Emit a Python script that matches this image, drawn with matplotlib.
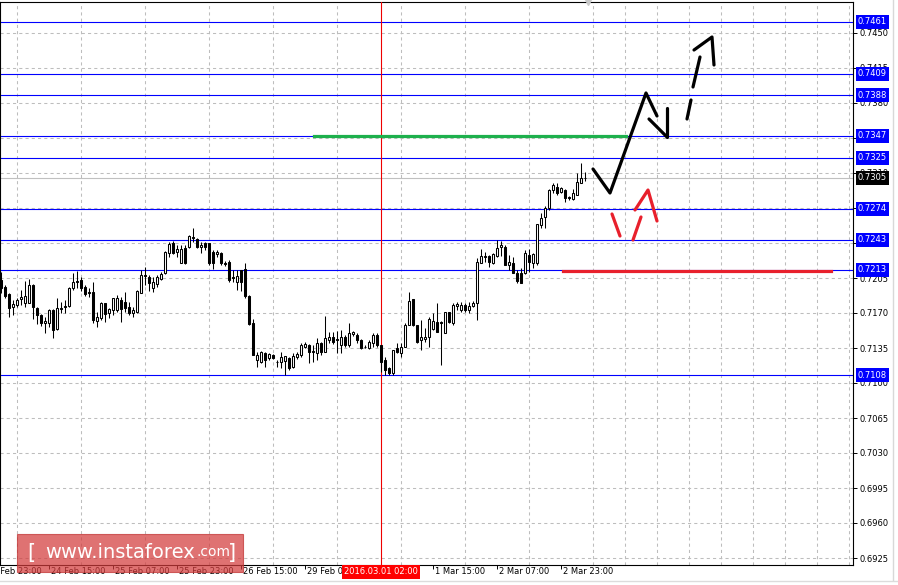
import numpy as np
import matplotlib
matplotlib.use('Agg')
import matplotlib.pyplot as plt
from matplotlib.lines import Line2D
from matplotlib.patches import Rectangle
from matplotlib.transforms import blended_transform_factory


W, H, DPI = 898, 585, 100

# H1 candles, prices in pips (x 1e-4)
OPENS = [7203, 7196, 7189, 7176, 7178, 7184, 7180, 7180, 7198, 7175,
         7168, 7160, 7160, 7173, 7154, 7174, 7177, 7177, 7195, 7202,
         7203, 7196, 7191, 7191, 7162, 7165, 7180, 7170, 7173, 7173,
         7183, 7181, 7176, 7170, 7171, 7190, 7208, 7206, 7195, 7199,
         7204, 7210, 7230, 7240, 7231, 7220, 7235, 7236, 7246, 7244,
         7236, 7240, 7240, 7231, 7229, 7230, 7220, 7221, 7206, 7201,
         7213, 7214, 7187, 7160, 7123, 7121, 7130, 7125, 7128, 7121,
         7121, 7122, 7125, 7116, 7126, 7128, 7136, 7138, 7131, 7130,
         7140, 7131, 7143, 7146, 7144, 7138, 7146, 7138, 7149, 7148,
         7143, 7136, 7135, 7140, 7148, 7138, 7123, 7115, 7110, 7135,
         7130, 7136, 7158, 7184, 7158, 7143, 7144, 7146, 7154, 7161,
         7161, 7150, 7171, 7160, 7177, 7173, 7178, 7173, 7177, 7180,
         7220, 7227, 7227, 7220, 7227, 7236, 7236, 7218, 7220, 7210,
         7210, 7210, 7228, 7220, 7220, 7258, 7266, 7275, 7293, 7296,
         7291, 7293, 7286, 7284, 7288, 7300, 7305]
HIGHS = [7211, 7198, 7190, 7183, 7185, 7193, 7202, 7204, 7199, 7176,
         7169, 7166, 7174, 7174, 7185, 7181, 7183, 7196, 7210, 7212,
         7206, 7198, 7195, 7201, 7171, 7181, 7180, 7175, 7185, 7188,
         7186, 7191, 7181, 7176, 7193, 7213, 7216, 7208, 7206, 7208,
         7211, 7232, 7241, 7242, 7238, 7238, 7238, 7248, 7255, 7245,
         7241, 7241, 7240, 7233, 7233, 7231, 7222, 7223, 7213, 7213,
         7213, 7220, 7188, 7164, 7131, 7132, 7131, 7130, 7129, 7123,
         7131, 7127, 7126, 7130, 7131, 7140, 7141, 7139, 7138, 7145,
         7141, 7167, 7151, 7151, 7152, 7153, 7148, 7160, 7152, 7150,
         7144, 7138, 7143, 7150, 7150, 7138, 7126, 7116, 7133, 7140,
         7140, 7160, 7191, 7184, 7158, 7163, 7155, 7166, 7170, 7180,
         7162, 7171, 7171, 7180, 7181, 7181, 7180, 7181, 7182, 7225,
         7234, 7231, 7228, 7230, 7243, 7242, 7238, 7228, 7226, 7213,
         7215, 7233, 7234, 7230, 7259, 7270, 7277, 7294, 7300, 7300,
         7296, 7294, 7287, 7294, 7310, 7320, 7311]
LOWS = [7190, 7185, 7166, 7168, 7176, 7178, 7176, 7180, 7164, 7159,
        7157, 7150, 7156, 7145, 7153, 7170, 7170, 7176, 7193, 7195,
        7192, 7187, 7186, 7160, 7156, 7163, 7161, 7165, 7168, 7171,
        7161, 7171, 7168, 7166, 7170, 7190, 7198, 7192, 7191, 7196,
        7203, 7209, 7226, 7229, 7226, 7220, 7219, 7235, 7241, 7235,
        7230, 7233, 7218, 7214, 7226, 7218, 7217, 7201, 7201, 7193,
        7192, 7185, 7158, 7128, 7116, 7120, 7116, 7123, 7124, 7116,
        7115, 7108, 7113, 7115, 7124, 7126, 7135, 7120, 7121, 7123,
        7128, 7131, 7140, 7139, 7130, 7130, 7136, 7136, 7147, 7140,
        7134, 7135, 7134, 7136, 7136, 7111, 7108, 7108, 7108, 7130,
        7126, 7136, 7158, 7157, 7140, 7133, 7141, 7136, 7153, 7151,
        7118, 7150, 7160, 7158, 7173, 7171, 7171, 7170, 7176, 7163,
        7220, 7221, 7216, 7219, 7226, 7227, 7218, 7213, 7210, 7200,
        7200, 7209, 7211, 7215, 7218, 7255, 7255, 7273, 7290, 7288,
        7290, 7281, 7283, 7283, 7288, 7300, 7302]
CLOSES = [7195, 7187, 7175, 7179, 7183, 7186, 7187, 7198, 7176, 7168,
          7160, 7162, 7173, 7153, 7175, 7175, 7176, 7195, 7201, 7201,
          7195, 7189, 7190, 7163, 7166, 7180, 7169, 7174, 7185, 7185,
          7174, 7175, 7170, 7173, 7192, 7208, 7207, 7200, 7201, 7206,
          7209, 7231, 7239, 7230, 7234, 7234, 7220, 7247, 7245, 7236,
          7238, 7236, 7220, 7220, 7231, 7220, 7219, 7203, 7205, 7207,
          7201, 7187, 7159, 7128, 7128, 7131, 7123, 7129, 7125, 7121,
          7126, 7127, 7115, 7127, 7129, 7138, 7139, 7131, 7132, 7140,
          7131, 7145, 7146, 7141, 7143, 7146, 7138, 7150, 7151, 7143,
          7135, 7136, 7141, 7148, 7138, 7121, 7113, 7110, 7133, 7131,
          7136, 7158, 7182, 7158, 7141, 7146, 7146, 7164, 7162, 7151,
          7160, 7171, 7161, 7178, 7179, 7178, 7173, 7177, 7180, 7221,
          7227, 7226, 7221, 7229, 7235, 7238, 7218, 7221, 7210, 7202,
          7200, 7230, 7221, 7229, 7259, 7265, 7275, 7293, 7298, 7290,
          7295, 7285, 7285, 7290, 7301, 7305, 7305]

LEVELS = [0.7461, 0.7409, 0.7388, 0.7347, 0.7325, 0.7274, 0.7243, 0.7213, 0.7108]
BID = 0.7305
PRICE_TICKS = [0.7450, 0.7415, 0.7380, 0.7345, 0.7310, 0.7275, 0.7240, 0.7205,
               0.7170, 0.7135, 0.7100, 0.7065, 0.7030, 0.6995, 0.6960, 0.6925]

TICK_POS = [12, 28, 44, 60, 76, 92, 108, 124, 140]
LABEL_POS = [-4, 12, 28, 44, 60, 76, 108, 124, 140]
TIME_LABELS = ['23 Feb 23:00', '24 Feb 15:00', '25 Feb 07:00', '25 Feb 23:00',
               '26 Feb 15:00', '29 Feb 07:00', '1 Mar 15:00',
               '2 Mar 07:00', '2 Mar 23:00']
CROSS_BAR = 95
CROSS_LABEL = '2016.03.01 02:00'

# support / resistance segments: (bar from, bar to, price)
GREEN_SEG = (78.25, 156.25, 0.7347)
RED_SEG = (140.5, 207.5, 0.72125)

# hand drawn scenario arrows, (bars, prices)
MAIN_PATH = ([148, 152.25, 161.25, 164], [0.7314, 0.7290, 0.7390, 0.7367])
MAIN_HEAD = [([162, 166.5], [0.7364, 0.7346]), ([166.5, 166.5], [0.7375, 0.7346])]
ALT_UP = [([171.5, 172.5], [0.7364, 0.7383]), ([173, 174.75], [0.7396, 0.7426]),
          ([173.25, 177.75, 178.25], [0.7433, 0.7446, 0.7418])]
ALT_DOWN = [([152.75, 154.75], [0.7269, 0.7247]), ([158, 160], [0.7243, 0.7266]),
            ([158.5, 161.75, 164], [0.7273, 0.7293, 0.7262])]


def px(x, y):
    # pixel position -> figure fraction
    return x / W, 1 - y / H


def draw_candles(ax):
    o = np.array(OPENS) / 1e4
    h = np.array(HIGHS) / 1e4
    l = np.array(LOWS) / 1e4
    c = np.array(CLOSES) / 1e4
    x = np.arange(len(o))
    up = c >= o
    ax.vlines(x, l, h, color='black', lw=0.75, zorder=4)
    ax.bar(x, np.abs(c - o), bottom=np.minimum(o, c), width=0.72,
           color=np.where(up, 'white', 'black'), edgecolor='black',
           linewidth=0.75, zorder=5)


def main():
    fig = plt.figure(figsize=(W / DPI, H / DPI), dpi=DPI)
    fig.patch.set_facecolor('white')
    l, b = px(0, 565)
    ax = fig.add_axes([l, b, 853 / W, 563 / H])
    ax.set_xlim(-0.25, 213)
    ax.set_ylim(0.6918, 0.7481)

    for s in ax.spines.values():
        s.set_linewidth(0.8)
        s.set_color('black')

    # grid
    ax.set_xticks(np.arange(4, 213, 8), minor=True)
    ax.set_xticks(TICK_POS)
    ax.set_yticks(PRICE_TICKS)
    ax.set_yticklabels([f'{t:.4f}' for t in PRICE_TICKS])
    ax.yaxis.tick_right()
    ax.tick_params(axis='y', length=3, width=0.7, labelsize=6, pad=2)
    ax.tick_params(axis='x', which='major', length=3, width=0.7, labelbottom=False)
    ax.tick_params(axis='x', which='minor', length=0)
    grid_kw = dict(color='#bdbdbd', lw=0.75, ls=(0, (3, 3)))
    ax.grid(True, axis='x', which='minor', **grid_kw)
    ax.grid(True, axis='y', which='major', **grid_kw)
    ax.set_axisbelow(True)

    # levels
    for lv in LEVELS:
        ax.axhline(lv, color='#0000ff', lw=0.8, zorder=2)
    ax.axhline(BID, color='#c0c0c0', lw=0.8, zorder=2)
    ax.axvline(CROSS_BAR, color='#ee0000', lw=0.8, zorder=3)

    draw_candles(ax)

    ax.plot(GREEN_SEG[:2], [GREEN_SEG[2]] * 2, color='#1db04c', lw=2.3, zorder=6)
    ax.plot(RED_SEG[:2], [RED_SEG[2]] * 2, color='#e8202c', lw=2.3, zorder=6)

    arrow_kw = dict(lw=2.3, solid_capstyle='round', zorder=7)
    ax.plot(*MAIN_PATH, color='black', **arrow_kw)
    for xs, ys in MAIN_HEAD:
        ax.plot(xs, ys, color='black', **arrow_kw)
    for xs, ys in ALT_UP:
        ax.plot(xs, ys, color='black', **arrow_kw)
    for xs, ys in ALT_DOWN:
        ax.plot(xs, ys, color='#e8202c', **arrow_kw)

    # right price labels
    ty = blended_transform_factory(ax.transAxes, ax.transData)
    for lv in LEVELS:
        ax.text(1 + 5 / 853, lv, f'{lv:.4f}', transform=ty, ha='left', va='center',
                color='white', fontsize=6, zorder=20, clip_on=False,
                bbox=dict(boxstyle='square,pad=0.25', fc='#0000ff', ec='none'))
    ax.text(1 + 5 / 853, BID, f'{BID:.4f}', transform=ty, ha='left', va='center',
            color='white', fontsize=6, zorder=20, clip_on=False,
            bbox=dict(boxstyle='square,pad=0.25', fc='black', ec='none'))

    # time labels
    tx = blended_transform_factory(ax.transData, ax.transAxes)
    for pos, lab in zip(LABEL_POS, TIME_LABELS):
        ax.text(pos + 0.6, -7 / 563, lab, transform=tx, ha='left', va='center',
                fontsize=6, color='black', clip_on=False, zorder=10)
    ax.text(CROSS_BAR, -7 / 563, CROSS_LABEL, transform=tx, ha='center', va='center',
            fontsize=6, color='white', clip_on=False, zorder=21,
            bbox=dict(boxstyle='square,pad=0.3', fc='#ff0000', ec='none'))

    # shift marker
    ax.plot([146.75], [1.0], marker='v', ms=5, color='#c8c8c8', transform=tx,
            clip_on=False, zorder=10)

    # window edges on the right / bottom
    fig.add_artist(Line2D([893 / W] * 2, [px(0, 580)[1], 1], color='#d8d8d8', lw=1))
    fig.add_artist(Line2D([0, 1], [px(0, 581)[1]] * 2, color='#dcdcdc', lw=1))

    # watermark
    x0, y0 = px(17, 572)
    fig.add_artist(Rectangle((x0, y0), 226 / W, 38 / H, transform=fig.transFigure,
                             fc='#d33c3c', ec='#c03030', alpha=0.72, lw=0.8, zorder=30))
    ty0 = px(0, 553)[1]
    fig.text(px(27, 0)[0], ty0, '[', color='white', fontsize=15, va='center',
             ha='left', zorder=31)
    fig.text(px(45, 0)[0], ty0, 'www.instaforex', color='white', fontsize=14,
             va='center', ha='left', zorder=31)
    fig.text(px(197, 0)[0], ty0 + 1.5 / H, '.com', color='white', fontsize=10,
             va='center', ha='left', zorder=31)
    fig.text(px(228, 0)[0], ty0, ']', color='white', fontsize=15, va='center',
             ha='left', zorder=31)

    fig.savefig('out.png', dpi=DPI)


if __name__ == '__main__':
    main()
